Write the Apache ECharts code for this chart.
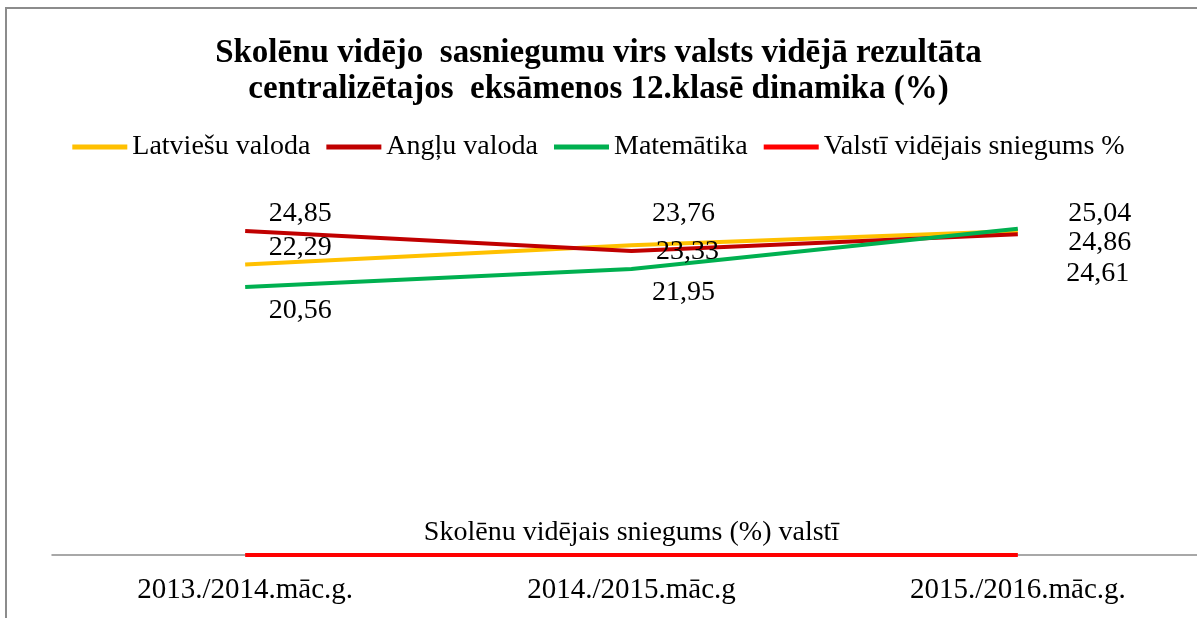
<!DOCTYPE html>
<html>
<head>
<meta charset="utf-8">
<script src="https://cdn.jsdelivr.net/npm/echarts@6/dist/echarts.min.js"></script>
<style>
  html, body { margin: 0; padding: 0; background: #fff; }
  #chart { width: 1197px; height: 618px; }
</style>
</head>
<body>
<div id="chart"></div>
<script>
const years = ['2013./2014.māc.g.', '2014./2015.māc.g', '2015./2016.māc.g.'];
const latviesu = [22.29, 23.76, 24.86];
const anglu = [24.85, 23.33, 24.61];
const matematika = [20.56, 21.95, 25.04];
const valsti = [0, 0, 0];

const serif = '"Liberation Serif", "Times New Roman", serif';
const fmt = p => p.value.toFixed(2).replace('.', ',');

// label offsets per point (the labels were moved by hand in the original)
const latviesuOffsets = [[55, -17], [52, -32], [82, 12]];
const angluOffsets = [[55, -17], [56, 1], [80, 39]];
const matematikaOffsets = [[55, 24], [52, 24], [82, -15]];

function withLabels(values, offsets) {
  return values.map((v, i) => ({ value: v, label: { position: 'inside', offset: offsets[i] } }));
}

function lineSeries(name, color, data) {
  return {
    name: name,
    type: 'line',
    symbol: 'circle',
    symbolSize: 0,
    lineStyle: { width: 4, color: color },
    itemStyle: { color: color },
    label: { show: true, formatter: fmt, fontFamily: serif, fontSize: 28, color: '#000' },
    data: data
  };
}

const chart = echarts.init(document.getElementById('chart'));
chart.setOption({
  animation: false,
  title: {
    text: 'Skolēnu vidējo  sasniegumu virs valsts vidējā rezultāta\ncentralizētajos  eksāmenos 12.klasē dinamika (%)',
    left: 'center',
    top: 30,
    padding: [5, 0, 5, 18],
    textStyle: { fontFamily: serif, fontSize: 33, fontWeight: 'bold', color: '#000', lineHeight: 36 }
  },
  legend: {
    top: 128,
    left: 'center',
    itemWidth: 55,
    itemHeight: 5,
    itemGap: 16,
    icon: 'rect',
    textStyle: { fontFamily: serif, fontSize: 28, color: '#000' },
    data: ['Latviešu valoda', 'Angļu valoda', 'Matemātika', 'Valstī vidējais sniegums %']
  },
  graphic: [{
    type: 'rect',
    shape: { x: 6, y: 8, width: 1300, height: 700 },
    style: { fill: 'none', stroke: '#8c8c8c', lineWidth: 2 },
    silent: true
  }],
  grid: { left: 52, right: -14, top: 164, bottom: 63, outerBoundsMode: 'none', containLabel: false },
  xAxis: {
    type: 'category',
    data: years,
    axisLine: { lineStyle: { color: '#8c8c8c', width: 1.5 } },
    axisTick: { show: false },
    axisLabel: { fontFamily: serif, fontSize: 29, color: '#000', margin: 21 }
  },
  yAxis: {
    type: 'value',
    min: 0,
    max: 30,
    show: false
  },
  series: [
    lineSeries('Latviešu valoda', '#FFC000', withLabels(latviesu, latviesuOffsets)),
    lineSeries('Angļu valoda', '#C00000', withLabels(anglu, angluOffsets)),
    lineSeries('Matemātika', '#00B050', withLabels(matematika, matematikaOffsets)),
    Object.assign(lineSeries('Valstī vidējais sniegums %', '#FF0000',
      valsti.map((v, i) => ({
        value: v,
        label: i === 1
          ? { show: true, position: 'inside', offset: [0, -22], formatter: 'Skolēnu vidējais sniegums (%) valstī', fontSize: 28 }
          : { show: false }
      }))), { z: 3 })
  ]
});
</script>
</body>
</html>
